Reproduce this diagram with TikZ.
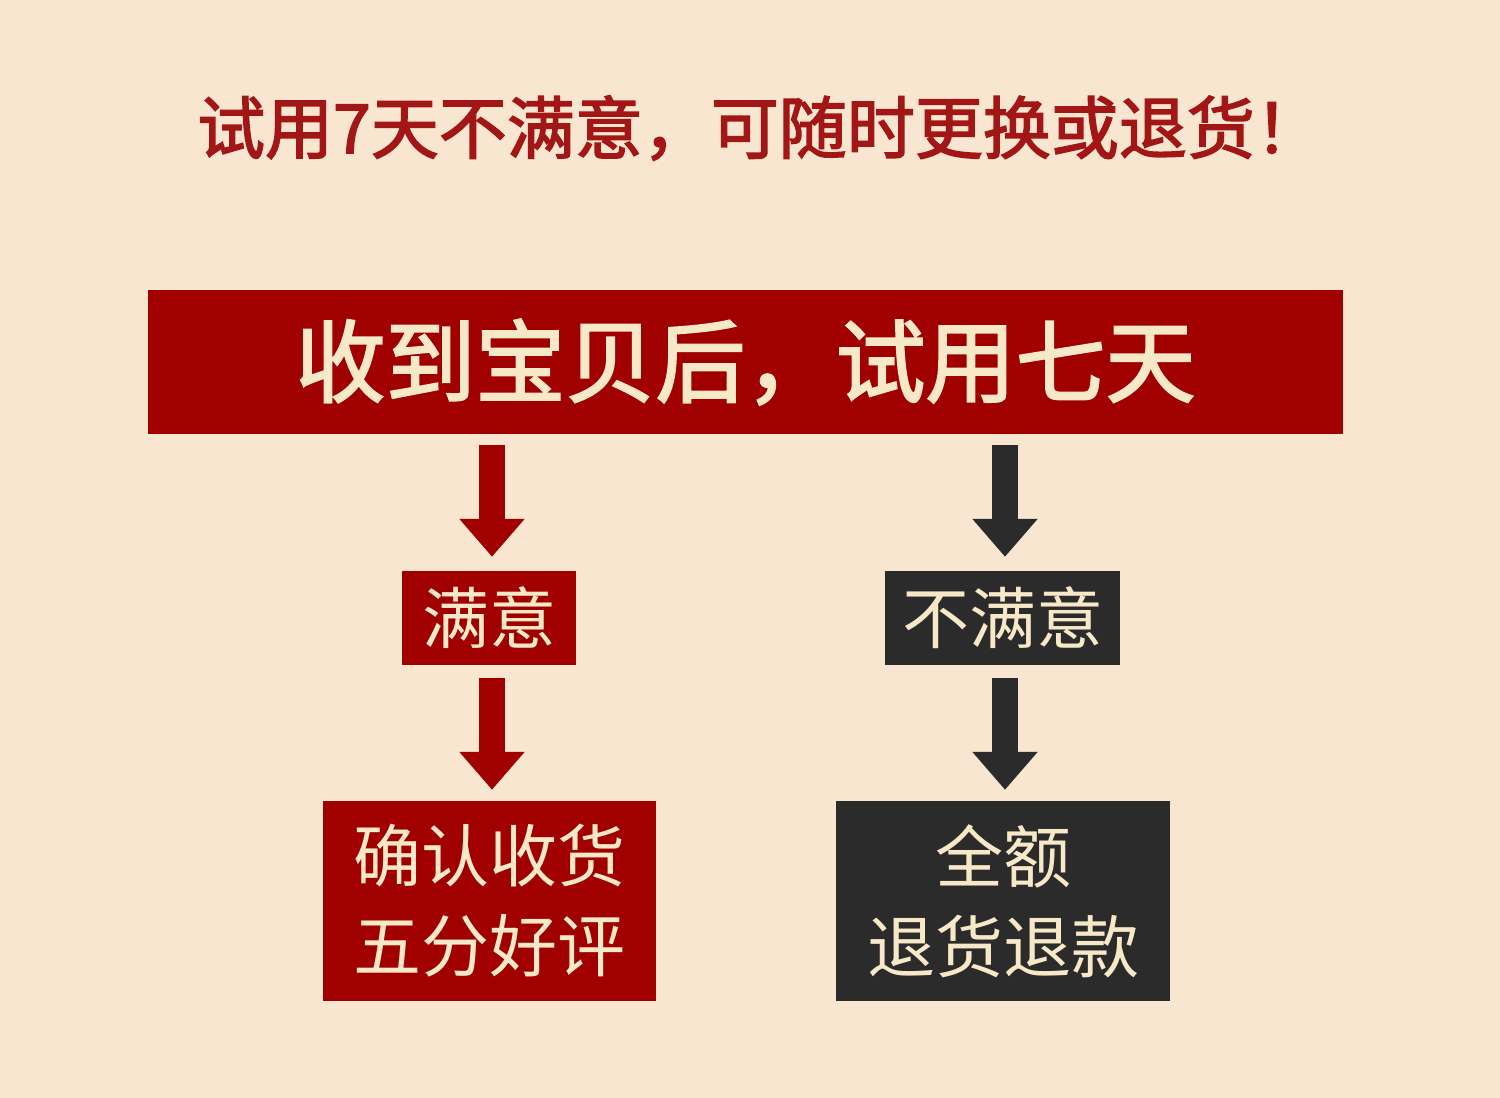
\documentclass[tikz,border=0pt]{standalone}
\usepackage{fontspec}
\newfontfamily\cjk{Noto Sans CJK SC}
\newfontfamily\cjkm[FakeBold=2.2]{Noto Sans CJK SC}
\usetikzlibrary{arrows.meta}
\definecolor{bg}{HTML}{F8E6D0}
\definecolor{bred}{HTML}{A00000}
\definecolor{bdark}{HTML}{2B2B2B}
\definecolor{ttl}{HTML}{A31616}
\definecolor{cream}{HTML}{F7E8C8}
\begin{document}
\begin{tikzpicture}[x=1pt,y=-1pt,
  box/.style={inner sep=0pt, text=cream, font=\cjk\fontsize{67}{90}\selectfont, align=center},
  redbox/.style={box, fill=bred},
  darkbox/.style={box, fill=bdark},
  flow/.style={line width=26pt, -{Triangle[width=63pt,length=38pt]}},
]
\fill[bg] (0,0) rectangle (1500,1098);
\useasboundingbox (0,0) rectangle (1500,1098);
\node[font=\cjkm\fontsize{68}{70}\selectfont, text=ttl] (title) at (760,128) {试用7天不满意，可随时更换或退货！};
\node[redbox, minimum width=1195pt, minimum height=144pt, font=\cjkm\fontsize{90}{100}\selectfont] (top) at (745.5,362) {收到宝贝后，试用七天};
\node[redbox, minimum width=174pt, minimum height=94pt] (sat) at (489,618) {满意};
\node[darkbox, minimum width=235pt, minimum height=94pt] (unsat) at (1002.5,618) {不满意};
\node[redbox, minimum width=333pt, minimum height=200pt, font=\cjk\fontsize{68}{90}\selectfont] (ok) at (489.5,901) {确认收货\\五分好评};
\node[darkbox, minimum width=334pt, minimum height=200pt, font=\cjk\fontsize{68}{90}\selectfont] (refund) at (1003,901) {全额\\退货退款};
\draw[flow, bred, shorten <=11pt, shorten >=14pt] ([xshift=3pt]top.south -| sat.north) -- ([xshift=3pt]sat.north);
\draw[flow, bdark, shorten <=11pt, shorten >=14pt] ([xshift=2.5pt]top.south -| unsat.north) -- ([xshift=2.5pt]unsat.north);
\draw[flow, bred, shorten <=13pt, shorten >=11pt] ([xshift=3pt]sat.south) -- ([xshift=2.5pt]ok.north);
\draw[flow, bdark, shorten <=13pt, shorten >=11pt] ([xshift=2.5pt]unsat.south) -- ([xshift=2pt]refund.north);
\end{tikzpicture}
\end{document}
